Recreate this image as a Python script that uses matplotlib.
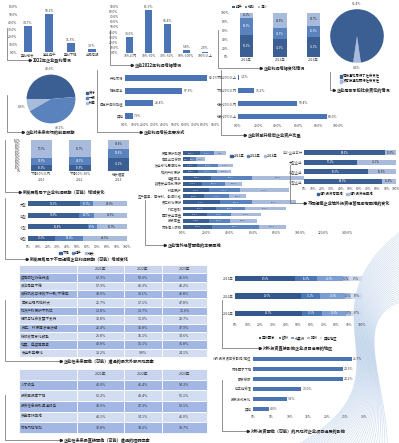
import matplotlib
matplotlib.use('Agg')
import matplotlib.pyplot as plt
from matplotlib.ticker import FuncFormatter
from matplotlib.patches import Patch
import numpy as np

plt.rcParams['font.family'] = ['Noto Sans CJK SC', 'DejaVu Sans']
plt.rcParams['axes.unicode_minus'] = False

W, H = 399, 443
DARK, MID, LIGHT, BAR = '#3b5f93', '#5a82bd', '#a8bbdc', '#4a74b3'
TXT = '#404040'
FS = 2.4

# 2022年企业盈利情况
profit_cats = ['盈利增长', '基本持平', '盈利下降', '出现亏损']
profit_vals = [34.7, 50.1, 11.5, 3.7]

# 企业2022年利润增幅情况
growth_cats = ['10%以内', '10%-30%', '30%-50%', '50%-100%', '100%以上']
growth_vals = [30.6, 81.9, 55.4, 5.8, 2.5]

# 企业利润增幅变化情况
change_years = ['2021年', '2022年', '2023年']
change_flat = [50.2, 41.3, 45.1]
change_up = [38.6, 23.9, 26.2]
change_down = [11.2, 34.8, 28.7]

# 企业是否承担社会责任的情况
duty_labels = ['有按通知履行了社会责任', '没有按通知履行社会责任']
duty_vals = [95.4, 4.6]

# 企业对未来市场的前景预期
outlook_labels = ['良好', '一般', '较差']
outlook_vals = [48.6, 43.1, 8.3]

# 企业利润增长主要方式
way_cats = ['开拓市场', '降低成本', '提高产品附加值', '其他']
way_vals = [82.1, 57.3, 28.4, 7.9]

# 企业转型升级后企业资产比重
asset_cats = ['下降20%以上', '下降20%以内', '增长20%以内', '增长20%以上']
asset_vals = [1.1, 16.2, 59.4, 88.6]

# 新发展格局下企业利润预期（可能）增减变化
expect_cats = ['下滑10%以内\n2021', '下滑10%-30%\n2022', '增长幅度\n2023']
expect_low = [19.2, 19.8, 43.2]
expect_mid = [22.9, 24.5, 28.4]
expect_high = [57.9, 55.7, 28.4]

# 新发展格局下不同规模企业利润预期（可能）增减变化
size_cats = ['大型', '中型', '小型', '微型']
size_down = [52.3, 51.8, 60.4, 27.6]
size_flat = [13.1, 14.7, 8.9, 28.1]
size_up = [34.6, 33.5, 30.7, 44.3]
size_legend = ['下降', '持平', '增长']

# 企业境外经营面临的主要困难
risk_cats = ['贸易保护加强', '商品出口受限', '反全球化思潮抬头', '知识产权保护',
             '经营成本', '数据安全隐私保护', '环境保护', '生产要素、原材料、能源价格',
             '员工权利保护', '外汇管制', '国际安全审查', '投资审查', '市场准入限制']
risk_2021 = [14.2, 5.8, 12.1, 13.0, 24.3, 16.4, 22.1, 18.0, 31.2, 28.4, 20.3, 22.0, 25.1]
risk_2022 = [12.6, 5.1, 17.9, 15.8, 34.2, 19.7, 26.3, 21.6, 28.1, 24.2, 20.9, 17.8, 39.6]
risk_2023 = [9.8, 7.7, 12.4, 12.2, 44.9, 14.3, 41.8, 14.1, 37.2, 35.1, 25.8, 23.0, 23.4]
year_legend = ['2021年', '2022年', '2023年']

# 不同规模企业境外投资经营是否有困难的变化
hard_cats = ['中小企业合计', '大型企业', '中型企业', '小型企业']
hard_yes = [88.0, 57.1, 69.5, 84.6]
hard_no = [12.0, 42.9, 30.5, 15.4]
hard_legend = ['境外投资有困难', '境外投资无困难']

# 企业在未来面临（可能）遭遇的最大外部风险因素
t1_rows = ['疫情防控仍在持续', '政治局势不稳', '政府执政与行政不一致/不稳定', '国家出现风险较大',
           '知识产权保护不到位', '经济与社会发展不支持', '劳工、环保等法律法规',
           '税收政策变化频繁', '地震、瘟疫等因素', '安全形势恶化']
t1_2021 = [67.3, 57.3, 33.5, 25.7, 12.8, 19.8, 26.4, 21.8, 42.8, 13.2]
t1_2022 = [59.6, 46.3, 30.1, 17.1, 12.7, 11.0, 16.8, 15.1, 35.1, 9.0]
t1_2023 = [41.5, 48.2, 41.8, 47.8, 11.6, 22.7, 37.9, 34.6, 31.8, 24.1]

# 企业在未来最直接面临（可能）遭遇的阻碍
t2_rows = ['人才缺乏', '投资回报率下降', '投资信息获取渠道缺乏', '资金周转困难', '市场风险增加']
t2_2021 = [42.0, 52.2, 33.9, 43.1, 32.8]
t2_2022 = [41.4, 48.4, 27.3, 34.1, 33.6]
t2_2023 = [54.3, 51.1, 52.1, 45.0, 38.7]

# 对外投资直接影响企业项目进展的地区
region_years = ['2023年', '2022年', '2021年']
region_names = ['亚洲国家', '欧洲', '北美洲', '非洲', '其他地区']
region_vals = [[47.6, 16.8, 20.5, 5.2, 9.9],
               [52.0, 15.2, 19.8, 4.1, 8.9],
               [52.7, 15.5, 19.4, 3.7, 8.7]]

# 对外投资面临（可能）的风险对企业项目进展的影响
effect_cats = ['对外投资项目受影响/推迟', '市场需求下降', '融资受限', '供应链受阻', '投资方式变化', '其他']
effect_vals = [26.7, 24.3, 24.2, 13.0, 9.1, 4.3]

fig = plt.figure(figsize=(W / 100, H / 100), dpi=100)
fig.patch.set_facecolor('white')

# background wave decoration
bg = fig.add_axes([0, 0, 1, 1], zorder=-5)
bg.set_xlim(0, W)
bg.set_ylim(H, 0)
bg.axis('off')
t = np.linspace(0, 1, 150)
for k in range(34):
    p0 = np.array([405, 228 + k * 2.2])
    p1 = np.array([290 + k * 1.8, 315])
    p2 = np.array([425 - k * 1.2, 375])
    p3 = np.array([295 + k * 2.8, 446])
    pts = ((1 - t) ** 3)[:, None] * p0 + (3 * (1 - t) ** 2 * t)[:, None] * p1 \
        + (3 * (1 - t) * t ** 2)[:, None] * p2 + (t ** 3)[:, None] * p3
    bg.plot(pts[:, 0], pts[:, 1], color='#4f86c9', lw=0.6, alpha=0.22)

ov = fig.add_axes([0, 0, 1, 1], zorder=10)
ov.set_xlim(0, W)
ov.set_ylim(H, 0)
ov.axis('off')
ov.patch.set_alpha(0)


def box(x0, y0, x1, y1):
    ax = fig.add_axes([x0 / W, 1 - y1 / H, (x1 - x0) / W, (y1 - y0) / H])
    ax.patch.set_alpha(0)
    for s in ax.spines.values():
        s.set_visible(False)
    ax.tick_params(length=0, labelsize=FS, pad=1, colors=TXT)
    return ax


def frame(x, y0, y1, x1, title):
    ov.plot([x, x, x1], [y0, y1, y1], color='#666666', lw=0.5)
    ov.plot([x1], [y1], marker='>', color='#222222', ms=1.6)
    ov.text(x1 + 3, y1, title, fontsize=3.0, fontweight='bold', va='center', color='#222222')


def legend_at(ax, handles, x, y, ncol, loc='center'):
    ax.legend(handles=handles, loc=loc, bbox_to_anchor=(x / W, 1 - y / H),
              bbox_transform=fig.transFigure, ncol=ncol, fontsize=FS, frameon=False,
              handlelength=0.7, handleheight=0.7, handletextpad=0.3,
              columnspacing=0.8, borderpad=0, labelspacing=0.3)


pct1 = FuncFormatter(lambda v, _: f'{v:.1f}%')
pct0 = FuncFormatter(lambda v, _: f'{v:.0f}%')

# 1. 2022年企业盈利情况
ax = box(19, 7, 101, 52)
b = ax.bar(range(len(profit_vals)), profit_vals, width=0.38, color=BAR)
ax.bar_label(b, fmt='%.1f%%', fontsize=FS, padding=1, color=TXT)
ax.set_ylim(0, 60)
ax.set_yticks(range(0, 61, 10))
ax.yaxis.set_major_formatter(pct1)
ax.set_xlim(-0.42, 3.42)
ax.set_xticks(range(len(profit_cats)))
ax.set_xticklabels(profit_cats)
frame(7, 28, 60, 30, '2022年企业盈利情况')

# 2. 企业2022年利润增幅情况
ax = box(120, 6, 214, 53)
b = ax.bar(range(len(growth_vals)), growth_vals, width=0.37, color=BAR)
ax.bar_label(b, fmt='%.1f%%', fontsize=FS, padding=1, color=TXT)
ax.set_ylim(0, 90)
ax.set_yticks(range(0, 91, 10))
ax.yaxis.set_major_formatter(pct1)
ax.set_xlim(-0.53, 4.48)
ax.set_xticks(range(len(growth_cats)))
ax.set_xticklabels(growth_cats)
frame(110, 30, 65, 132, '企业2022年利润增幅情况')

# 3. 企业利润增幅变化情况
ax = box(230, 13, 330, 57)
x = np.arange(len(change_years))
b1 = ax.bar(x, change_flat, width=0.4, color=DARK, label='持平')
b2 = ax.bar(x, change_up, width=0.4, bottom=change_flat, color=MID, label='增加')
b3 = ax.bar(x, change_down, width=0.4, bottom=np.add(change_flat, change_up), color=LIGHT, label='减少')
for bb, c in ((b1, 'white'), (b2, 'white'), (b3, '#333333')):
    ax.bar_label(bb, fmt='%.1f%%', label_type='center', fontsize=1.9, color=c)
ax.set_ylim(0, 100)
ax.set_yticks(range(0, 101, 20))
ax.yaxis.set_major_formatter(pct0)
ax.set_xlim(-0.5, 2.5)
ax.set_xticks(x)
ax.set_xticklabels(change_years)
legend_at(ax, [b1, b2, b3], 250, 7, 3)
frame(218, 30, 68, 261, '企业利润增幅变化情况')

# 4. 社会责任 pie
ax = fig.add_axes([323.5 / W, 1 - 69.5 / H, 67 / W, 67 / H])
ax.pie(duty_vals[::-1], colors=[LIGHT, DARK], startangle=270 - duty_vals[1] * 1.8,
       autopct='%.1f%%', pctdistance=1.2, textprops=dict(fontsize=FS, color=TXT),
       wedgeprops=dict(linewidth=0))
ax.set_aspect('equal')
legend_at(ax, [Patch(color=DARK, label=duty_labels[0]), Patch(color=LIGHT, label=duty_labels[1])],
          338, 79, 1, loc='center left')
frame(330, 72, 90, 334, '企业是否承担社会责任的情况')

# 5. 前景预期 pie
ax = fig.add_axes([20.5 / W, 1 - 129.5 / H, 61 / W, 61 / H])
order = [0, 2, 1]
cols = [DARK, MID, LIGHT]
ax.pie([outlook_vals[i] for i in order], colors=[cols[i] for i in order], startangle=5,
       autopct='%.1f%%', pctdistance=1.25, textprops=dict(fontsize=FS, color=TXT),
       wedgeprops=dict(linewidth=0))
ax.set_aspect('equal')
legend_at(ax, [Patch(color=c, label=l) for c, l in zip(cols, outlook_labels)],
          84, 98, 1, loc='center left')
frame(7, 95, 132, 23, '企业对未来市场的前景预期')

# 6. 企业利润增长主要方式
ax = box(125, 72, 215, 122)
y = np.arange(len(way_vals))
b = ax.barh(y, way_vals, height=0.45, color=BAR)
ax.bar_label(b, fmt='%.1f%%', fontsize=FS, padding=1, color=TXT)
ax.set_ylim(len(way_vals) - 0.5, -0.5)
ax.set_yticks(y)
ax.set_yticklabels(way_cats)
ax.set_xlim(0, 90)
ax.set_xticks(range(0, 91, 10))
ax.xaxis.set_major_formatter(pct1)
frame(97, 70, 132, 141, '企业利润增长主要方式')

# 7. 企业转型升级后企业资产比重
ax = box(238, 71, 338, 123)
y = np.arange(len(asset_vals))
b = ax.barh(y, asset_vals, height=0.45, color=BAR)
ax.bar_label(b, fmt='%.1f%%', fontsize=FS, padding=1, color=TXT)
ax.set_ylim(len(asset_vals) - 0.5, -0.5)
ax.set_yticks(y)
ax.set_yticklabels(asset_cats)
ax.set_xlim(0, 100)
ax.set_xticks(range(0, 101, 20))
ax.xaxis.set_major_formatter(pct1)
frame(221, 70, 135, 245, '企业转型升级后企业资产比重')

# 8. 新发展格局下企业利润预期
ax = box(22, 140, 138, 171)
x = np.arange(len(expect_cats))
b1 = ax.bar(x, expect_low, width=0.55, color=DARK)
b2 = ax.bar(x, expect_mid, width=0.55, bottom=expect_low, color=MID)
b3 = ax.bar(x, expect_high, width=0.55, bottom=np.add(expect_low, expect_mid), color=LIGHT)
for bb, c in ((b1, 'white'), (b2, 'white'), (b3, '#333333')):
    ax.bar_label(bb, fmt='%.1f%%', label_type='center', fontsize=1.9, color=c)
ax.set_ylim(0, 100)
ax.set_yticks(range(0, 101, 10))
ax.yaxis.set_major_formatter(pct0)
ax.tick_params(axis='y', labelsize=1.9)
ax.set_xlim(-0.5, 2.5)
ax.set_xticks(x)
ax.set_xticklabels(expect_cats, linespacing=1.6)
frame(5, 140, 192, 20, '新发展格局下企业利润预期（可能）增减变化')

# 9. 不同规模企业利润预期
ax = box(28, 198, 127, 244)
y = np.arange(len(size_cats))
h1 = ax.barh(y, size_down, height=0.45, color=DARK)
h2 = ax.barh(y, size_flat, height=0.45, left=size_down, color=MID)
h3 = ax.barh(y, size_up, height=0.45, left=np.add(size_down, size_flat), color=LIGHT)
for bb, c in ((h1, 'white'), (h2, 'white'), (h3, '#333333')):
    ax.bar_label(bb, fmt='%.1f%%', label_type='center', fontsize=1.9, color=c)
ax.set_ylim(len(size_cats) - 0.5, -0.5)
ax.set_yticks(y)
ax.set_yticklabels(size_cats)
ax.set_xlim(0, 100)
ax.set_xticks(range(0, 101, 10))
ax.xaxis.set_major_formatter(pct0)
legend_at(ax, [Patch(color=c, label=l) for c, l in zip((DARK, MID, LIGHT), size_legend)], 77, 253, 3)
frame(5, 198, 259, 27, '新发展格局下不同规模企业利润预期（可能）增减变化')

# 10. 企业境外经营面临的主要困难
ax = box(183, 150, 347, 230)
y = np.arange(len(risk_cats))
left = np.zeros(len(risk_cats))
for vals, c, tc in ((risk_2021, DARK, 'white'), (risk_2022, MID, 'white'), (risk_2023, LIGHT, '#333333')):
    hb = ax.barh(y, vals, height=0.6, left=left, color=c)
    ax.bar_label(hb, fmt='%.1f%%', label_type='center', fontsize=1.6, color=tc)
    left = left + np.array(vals)
ax.set_ylim(len(risk_cats) - 0.5, -0.5)
ax.set_yticks(y)
ax.set_yticklabels(risk_cats)
ax.set_xlim(0, 140)
ax.set_xticks(range(0, 141, 20))
ax.xaxis.set_major_formatter(pct1)
legend_at(ax, [Patch(color=c, label=l) for c, l in zip((DARK, MID, LIGHT), year_legend)], 254, 156, 3)
frame(145, 200, 245, 165, '企业境外经营面临的主要困难')

# 11. 不同规模企业境外投资经营是否有困难
ax = box(304, 148, 396, 186)
y = np.arange(len(hard_cats))
h1 = ax.barh(y, hard_yes, height=0.5, color=DARK)
h2 = ax.barh(y, hard_no, height=0.5, left=hard_yes, color=LIGHT)
ax.bar_label(h1, fmt='%.1f%%', label_type='center', fontsize=1.9, color='white')
ax.bar_label(h2, fmt='%.1f%%', label_type='center', fontsize=1.9, color='#333333')
ax.set_ylim(len(hard_cats) - 0.5, -0.5)
ax.set_yticks(y)
ax.set_yticklabels(hard_cats)
ax.set_xlim(0, 100)
ax.set_xticks(range(0, 101, 10))
ax.xaxis.set_major_formatter(pct0)
legend_at(ax, [Patch(color=DARK, label=hard_legend[0]), Patch(color=LIGHT, label=hard_legend[1])], 345, 194, 2)
frame(290, 165, 203, 305, '不同规模企业境外投资经营是否有困难的变化')


# tables
def draw_table(x0, y0, x1, y1, rows, c1, c2, c3):
    ax = box(x0, y0, x1, y1)
    ax.set_xticks([])
    ax.set_yticks([])
    cells = [[r, f'{a:.1f}%', f'{b:.1f}%', f'{c:.1f}%'] for r, a, b, c in zip(rows, c1, c2, c3)]
    tb = ax.table(cellText=cells, colLabels=['', '2021年', '2022年', '2023年'],
                  bbox=[0, 0, 1, 1], colWidths=[0.31, 0.25, 0.2, 0.24], cellLoc='center')
    tb.auto_set_font_size(False)
    for (r, c), cell in tb.get_celld().items():
        cell.set_edgecolor('white')
        cell.set_linewidth(0.6)
        cell.get_text().set_fontsize(2.6)
        cell.get_text().set_color('#333333')
        if r == 0:
            cell.set_facecolor('#c9d5ef')
        else:
            cell.set_facecolor('#a2b7e3' if r % 2 == 1 else '#d3ddf2')
        if c == 0:
            cell.get_text().set_ha('left')
            cell.PAD = 0.04


draw_table(19, 265, 207, 357, t1_rows, t1_2021, t1_2022, t1_2023)
frame(5, 300, 361, 61, '企业在未来面临（可能）遭遇的最大外部风险因素')
draw_table(19, 369, 207, 433, t2_rows, t2_2021, t2_2022, t2_2023)
frame(5, 395, 440, 61, '企业在未来最直接面临（可能）遭遇的阻碍因素')

# 14. 地区
ax = box(235, 270, 362, 322)
y = np.arange(len(region_years))
vals = np.array(region_vals)
left = np.zeros(len(region_years))
rcols = ['#34588c', '#4d77b4', '#7c9dd0', '#a9bde0', '#cfdaee']
hs = []
for j in range(len(region_names)):
    hb = ax.barh(y, vals[:, j], height=0.3, left=left, color=rcols[j], label=region_names[j])
    ax.bar_label(hb, fmt='%.1f%%', label_type='center', fontsize=1.8,
                 color='white' if j < 3 else '#333333')
    left = left + vals[:, j]
    hs.append(hb)
ax.set_ylim(len(region_years) - 0.5, -0.5)
ax.set_yticks(y)
ax.set_yticklabels(region_years)
ax.set_xlim(0, 100)
ax.set_xticks(range(0, 101, 10))
ax.xaxis.set_major_formatter(pct0)
legend_at(ax, hs, 298, 338, 5)
frame(222, 300, 348, 260, '对外投资直接影响企业项目进展的地区')

# 15. 影响
ax = box(253, 354, 364, 414)
y = np.arange(len(effect_cats))
b = ax.barh(y, effect_vals, height=0.45, color=BAR)
ax.bar_label(b, fmt='%.1f%%', fontsize=FS, padding=1, color=TXT)
ax.set_ylim(len(effect_cats) - 0.5, -0.5)
ax.set_yticks(y)
ax.set_yticklabels(effect_cats)
ax.set_xlim(0, 30)
ax.set_xticks(range(0, 31, 5))
ax.xaxis.set_major_formatter(pct0)
frame(222, 380, 431, 248, '对外投资面临（可能）的风险对企业项目进展的影响')

fig.savefig('out.png', dpi=100)
